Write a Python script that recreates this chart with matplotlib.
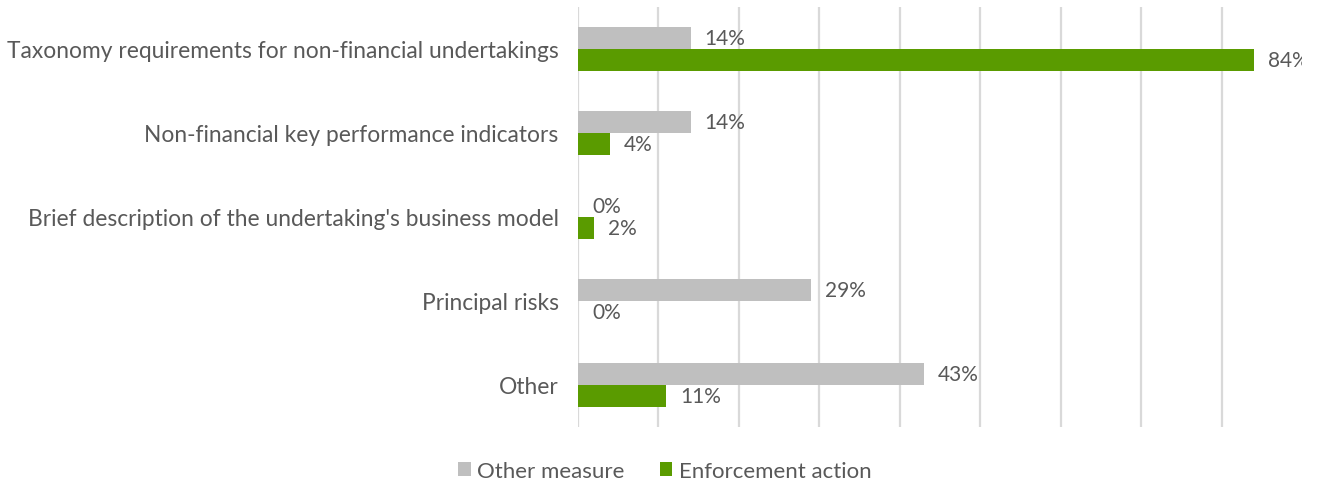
import matplotlib.pyplot as plt
import numpy as np

categories = ['Taxonomy requirements for non-financial undertakings',
              'Non-financial key performance indicators',
              "Brief description of the undertaking's business model",
              'Principal risks',
              'Other']
other_measure = [14, 14, 0, 29, 43]
enforcement = [84, 4, 2, 0, 11]

plt.rcParams['font.family'] = ['Lato', 'DejaVu Sans']

fig = plt.figure(figsize=(13.17, 4.85), dpi=100)
ax = fig.add_axes([578 / 1317, 57 / 485, 724 / 1317, 420 / 485])

y = np.arange(len(categories))
h = 0.26
grey = '#bfbfbf'
green = '#5a9b00'
txt = '#595959'

b1 = ax.barh(y - h / 2, other_measure, height=h, color=grey, label='Other measure', zorder=3)
b2 = ax.barh(y + h / 2, enforcement, height=h, color=green, label='Enforcement action', zorder=3)

for bars, vals in ((b1, other_measure), (b2, enforcement)):
    for bar, v in zip(bars, vals):
        ax.annotate(f'{v}%', (v, bar.get_y() + bar.get_height() / 2),
                    xytext=(10, 0), textcoords='offset points',
                    va='center', ha='left', fontsize=15, color=txt,
                    annotation_clip=False, clip_on=True)

ax.set_xlim(0, 90)
ax.set_ylim(len(categories) - 0.5, -0.5)
ax.set_xticks(np.arange(0, 90, 10))
ax.set_xticklabels([])
ax.tick_params(axis='x', length=0)
ax.tick_params(axis='y', length=0, pad=14)
ax.set_yticks(y)
ax.set_yticklabels(categories, fontsize=16.4, color=txt)
ax.grid(axis='x', color='#d9d9d9', linewidth=1.6, zorder=0)
for s in ax.spines.values():
    s.set_visible(False)

fig.legend(handles=[b1, b2], loc='center', bbox_to_anchor=(665 / 1317, 1 - 472 / 485),
           ncol=2, frameon=False, fontsize=16, labelcolor=txt,
           handlelength=0.55, handleheight=0.55, handletextpad=0.3, columnspacing=1.6)

fig.savefig('out.png', dpi=100)
